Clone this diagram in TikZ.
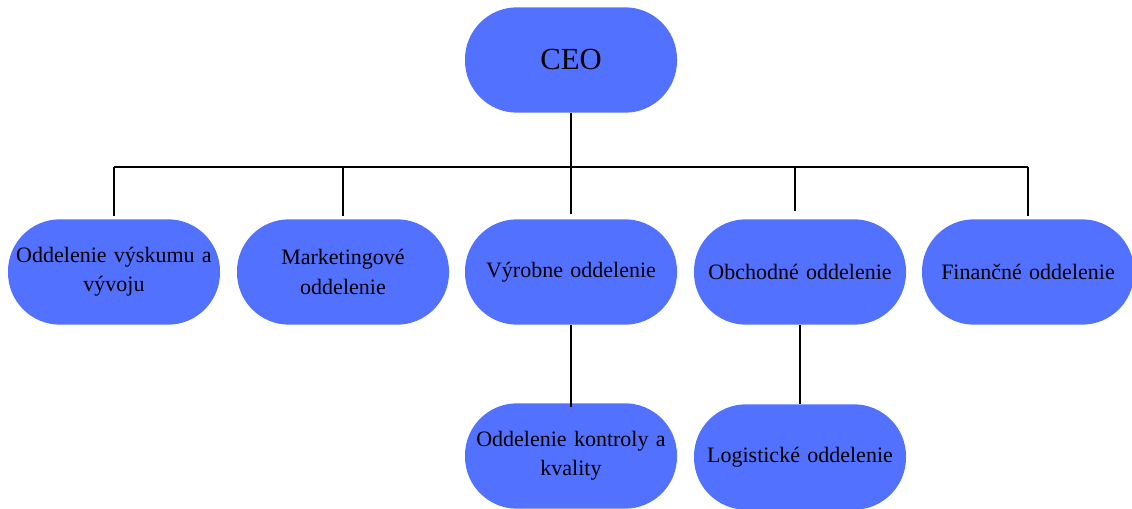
\documentclass[tikz,border=0pt]{standalone}
\usepackage{fontspec}
\setmainfont{Liberation Serif}
\definecolor{boxblue}{RGB}{82,113,255}
\tikzset{
	unit/.style={fill=boxblue, rounded corners=39pt, minimum width=159pt, minimum height=79pt, text width=156pt, align=center, inner sep=0pt, font=\fontsize{16.5}{22}\selectfont},
	link/.style={line width=1.5pt}
}
\begin{document}
\begin{tikzpicture}[x=0.75pt,y=-0.75pt]
	\useasboundingbox (0,0) rectangle (1132,509);
	\coordinate (busL) at (114,167);
	\coordinate (busR) at (1028,167);
	\node[unit, font=\fontsize{23}{28}\selectfont] (ceo) at (571,60) {CEO};
	\node[unit] (vyskum) at (114,272) {Oddelenie výskumu a\\vývoju};
	\node[unit] (marketing) at (343,272) {Marketingové\\oddelenie};
	\node[unit] (vyroba) at (571,272) {Výrobne oddelenie};
	\node[unit] (obchod) at (800,272) {Obchodné oddelenie};
	\node[unit] (financie) at (1028,272) {Finančné oddelenie};
	\node[unit] (kvalita) at (571,456) {Oddelenie kontroly a\\kvality};
	\node[unit] (logistika) at (800,457) {Logistické oddelenie};
	\draw[link] (busL) -- (busR);
	\draw[link, shorten >=4pt] (ceo.south) -- (vyroba.north);
	\draw[link, shorten >=2pt] (vyskum.north |- busL) -- (vyskum.north);
	\draw[link, shorten >=2pt] (marketing.north |- busL) -- (marketing.north);
	\draw[link, shorten >=6pt] ([xshift=-3.5pt]obchod.north |- busL) -- ([xshift=-3.5pt]obchod.north);
	\draw[link, shorten >=2pt] (financie.north |- busL) -- (financie.north);
	\draw[link] (vyroba.south) -- ([yshift=-3pt]kvalita.north);
	\draw[link] (obchod.south) -- (logistika.north);
\end{tikzpicture}
\end{document}
